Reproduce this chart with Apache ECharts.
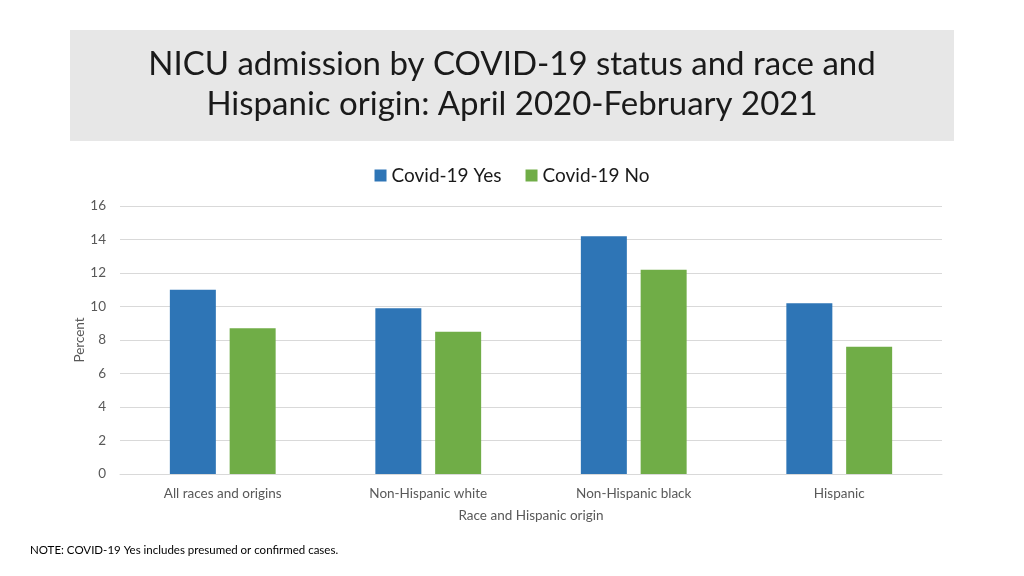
<!DOCTYPE html>
<html><head><meta charset="utf-8">
<script src="https://cdn.jsdelivr.net/npm/echarts@6/dist/echarts.min.js"></script>
<style>html,body{margin:0;padding:0;background:#fff}#c{width:1024px;height:576px}</style>
</head><body><div id="c"></div>
<script>
const categories = ['All races and origins', 'Non-Hispanic white', 'Non-Hispanic black', 'Hispanic'];
const covidYes = [11.0, 9.9, 14.2, 10.2];
const covidNo = [8.7, 8.5, 12.2, 7.6];
const seriesNames = ['Covid-19 Yes', 'Covid-19 No'];
const titleLines = ['NICU admission by COVID-19 status and race and', 'Hispanic origin: April 2020-February 2021'];
const note = 'NOTE: COVID-19 Yes includes presumed or confirmed cases.';

const chart = echarts.init(document.getElementById('c'), null, {renderer: 'canvas'});
const font = 'Lato, "Open Sans", sans-serif';
chart.setOption({
  animation: false,
  textStyle: {fontFamily: font},
  graphic: [
    {type: 'rect', shape: {x: 70, y: 30, width: 884, height: 111}, style: {fill: '#e7e7e7'}, z: -1},
    {type: 'text', x: 512, y: 64, style: {text: titleLines[0], font: '33px ' + font, fill: '#1a1a1a', align: 'center', verticalAlign: 'middle'}},
    {type: 'text', x: 512, y: 104, style: {text: titleLines[1], font: '33px ' + font, fill: '#1a1a1a', align: 'center', verticalAlign: 'middle'}},
    {type: 'text', x: 30, y: 550, style: {text: note, font: '11.5px ' + font, fill: '#000', verticalAlign: 'middle'}}
  ],
  legend: {
    top: 161, left: 'center', itemWidth: 12, itemHeight: 12, itemGap: 24,
    icon: 'rect',
    textStyle: {fontSize: 19, color: '#1a1a1a', fontFamily: font},
    data: seriesNames
  },
  grid: {left: 120, right: 82, top: 206, bottom: 102},
  xAxis: {
    type: 'category', data: categories,
    axisLine: {lineStyle: {color: '#d9d9d9'}},
    axisTick: {show: false},
    axisLabel: {color: '#595959', fontSize: 13.5, margin: 13, fontFamily: font},
    name: 'Race and Hispanic origin', nameLocation: 'middle', nameGap: 35,
    nameTextStyle: {color: '#595959', fontSize: 13.5, fontFamily: font}
  },
  yAxis: {
    type: 'value', min: 0, max: 16, interval: 2,
    axisLine: {show: false}, axisTick: {show: false},
    axisLabel: {color: '#595959', fontSize: 13.5, margin: 14, fontFamily: font},
    splitLine: {lineStyle: {color: '#d9d9d9'}},
    name: 'Percent', nameLocation: 'middle', nameGap: 33, nameMoveOverlap: false,
    nameTextStyle: {color: '#595959', fontSize: 13.5, fontFamily: font}
  },
  series: [
    {name: seriesNames[0], type: 'bar', data: covidYes, barWidth: 46, barGap: '30%', itemStyle: {color: '#2e75b6'}},
    {name: seriesNames[1], type: 'bar', data: covidNo, barWidth: 46, barGap: '30%', itemStyle: {color: '#70ad47'}}
  ]
});
</script></body></html>
